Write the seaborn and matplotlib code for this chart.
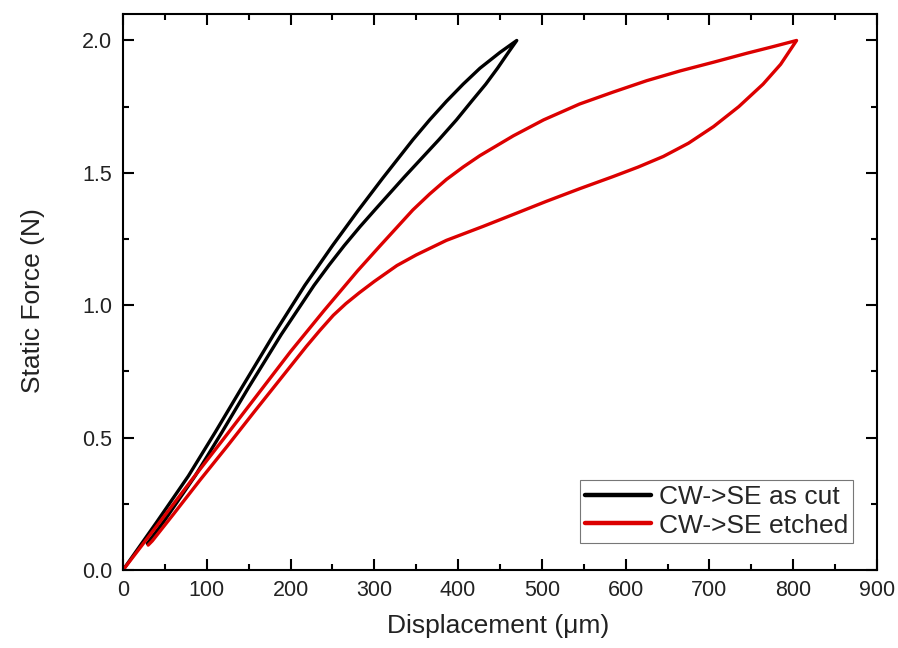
import numpy as np
import pandas as pd
import matplotlib
matplotlib.use("Agg")
import matplotlib.pyplot as plt
from matplotlib.ticker import MultipleLocator, FormatStrFormatter
import seaborn as sns

# Force-displacement loops (displacement in um, force in N)
cut_load_x = [0, 40, 78, 110, 142, 180, 217, 250, 280, 310, 346, 366, 386, 406, 426, 450, 470]
cut_load_y = [0.0, 0.18, 0.355, 0.52, 0.69, 0.89, 1.075, 1.225, 1.355, 1.48, 1.625, 1.70, 1.77, 1.835, 1.895, 1.955, 2.0]
cut_unload_x = [470, 460, 447, 433, 416, 398, 377, 336, 302, 283, 264, 246, 228, 189, 150, 118, 86, 48, 29]
cut_unload_y = [2.0, 1.955, 1.895, 1.835, 1.77, 1.70, 1.625, 1.485, 1.365, 1.297, 1.225, 1.152, 1.075, 0.89, 0.69, 0.52, 0.355, 0.18, 0.10]

etch_load_x = [0, 40, 82, 120, 160, 200, 240, 280, 307, 346, 366, 386, 406, 426, 466, 502, 545, 585, 625, 665, 705, 745, 775, 804]
etch_load_y = [0.0, 0.165, 0.34, 0.495, 0.66, 0.825, 0.98, 1.13, 1.225, 1.36, 1.42, 1.475, 1.522, 1.565, 1.64, 1.70, 1.76, 1.805, 1.848, 1.885, 1.918, 1.952, 1.976, 2.0]
etch_unload_x = [804, 785, 764, 735, 705, 675, 645, 615, 585, 545, 505, 466, 430, 386, 350, 327, 300, 282, 266, 251, 235, 219, 190, 156, 125, 92, 60, 35, 30]
etch_unload_y = [2.0, 1.91, 1.835, 1.75, 1.675, 1.612, 1.562, 1.522, 1.486, 1.44, 1.392, 1.343, 1.298, 1.245, 1.19, 1.15, 1.09, 1.047, 1.006, 0.962, 0.905, 0.845, 0.73, 0.595, 0.47, 0.34, 0.21, 0.11, 0.094]

series_names = ["CW->SE as cut", "CW->SE etched"]
series_colors = ["#000000", "#dc0000"]

frames = []
for name, xs, ys in [
    (series_names[0], cut_load_x + cut_unload_x, cut_load_y + cut_unload_y),
    (series_names[1], etch_load_x + etch_unload_x, etch_load_y + etch_unload_y),
]:
    frames.append(pd.DataFrame({"disp": xs, "force": ys, "series": name}))
df = pd.concat(frames, ignore_index=True)

sns.set_theme(style="white")
plt.rcParams["font.family"] = ["Liberation Sans", "DejaVu Sans"]

fig = plt.figure(figsize=(8.98, 6.48), dpi=100)
ax = fig.add_axes([0.137, 0.1204, 0.8396, 0.8580])

sns.lineplot(data=df, x="disp", y="force", hue="series", hue_order=series_names,
             palette=series_colors, sort=False, estimator=None, linewidth=2.4,
             ax=ax)
for line in ax.get_lines():
    line.set_solid_joinstyle("round")
    line.set_solid_capstyle("round")

ax.set_xlim(0, 900)
ax.set_ylim(0, 2.1)
ax.xaxis.set_major_locator(MultipleLocator(100))
ax.xaxis.set_minor_locator(MultipleLocator(50))
ax.yaxis.set_major_locator(MultipleLocator(0.5))
ax.yaxis.set_minor_locator(MultipleLocator(0.25))
ax.yaxis.set_major_formatter(FormatStrFormatter("%.1f"))

for s in ax.spines.values():
    s.set_visible(True)
    s.set_color("black")
    s.set_linewidth(1.5)

ax.tick_params(which="both", direction="in", top=True, right=True,
               bottom=True, left=True, color="black", width=1.5)
ax.tick_params(which="major", length=8, labelsize=15.5, colors="black")
ax.tick_params(axis="x", which="major", pad=7)
ax.tick_params(axis="y", which="major", pad=8)
ax.tick_params(which="minor", length=4)
for lab in ax.get_xticklabels() + ax.get_yticklabels():
    lab.set_color("#222222")

ax.set_xlabel("Displacement (\u03bcm)", fontsize=19, color="#222222")
ax.set_ylabel("Static Force (N)", fontsize=19, color="#222222")
ax.xaxis.set_label_coords(0.498, -0.080)
ax.yaxis.set_label_coords(-0.103, 0.484)

leg = ax.legend(loc="lower right", bbox_to_anchor=(0.9685, 0.0486), fontsize=19,
                frameon=True, fancybox=False, edgecolor="#555555",
                handlelength=2.5, handletextpad=0.3, borderpad=0.2,
                labelspacing=0.17, borderaxespad=0.0, title=None)
leg.get_frame().set_linewidth(0.8)
for line in leg.get_lines():
    line.set_linewidth(3.2)

fig.savefig("out.png", dpi=100)
